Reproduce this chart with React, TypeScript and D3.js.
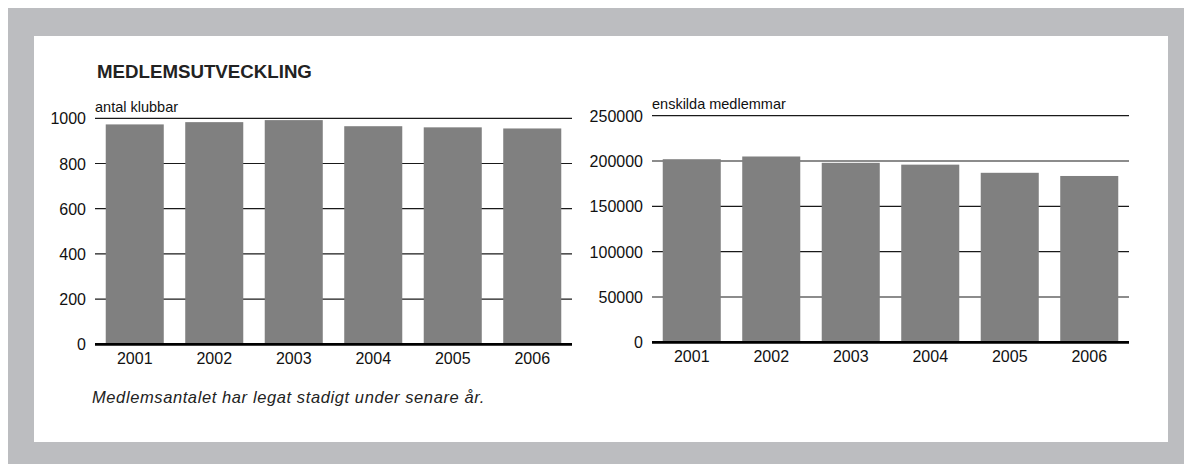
import React from 'react';
import * as d3 from 'd3';

const W = 1184;
const H = 464;

const years = ['2001', '2002', '2003', '2004', '2005', '2006'];
const klubbar = [973, 983, 992, 965, 960, 955];
const medlemmar = [202000, 205000, 198000, 196000, 187000, 183500];

const title = 'MEDLEMSUTVECKLING';
const caption = 'Medlemsantalet har legat stadigt under senare år.';

const font = '"Liberation Sans", Arial, sans-serif';

type PanelProps = {
  values: number[];
  max: number;
  label: string;
  x0: number;
  x1: number;
  y0: number;
  y1: number;
};

const Panel = ({ values, max, label, x0, x1, y0, y1 }: PanelProps) => {
  const x = d3.scaleBand().domain(years).range([x0, x1]).paddingInner(0.27).paddingOuter(0.135);
  const y = d3.scaleLinear().domain([0, max]).range([y0, y1]);
  const ticks = y.ticks(5);

  return (
    <g>
      <text x={x0} y={y1 - 6.5} fontSize={14.5} fontFamily={font} fill="#111">
        {label}
      </text>
      {ticks.map(t => (
        <g key={t}>
          <text
            x={x0 - 9}
            y={y(t) + 6}
            textAnchor="end"
            fontSize={16}
            fontFamily={font}
            fill="#111"
          >
            {t}
          </text>
          {t > 0 && <line x1={x0} x2={x1} y1={y(t)} y2={y(t)} stroke="#1a1a1a" strokeWidth={1.2} />}
        </g>
      ))}
      {values.map((v, i) => (
        <rect
          key={years[i]}
          x={x(years[i])}
          y={y(v)}
          width={x.bandwidth()}
          height={y0 - y(v)}
          fill="#808080"
        />
      ))}
      <line x1={x0} x2={x1} y1={y0} y2={y0} stroke="#000" strokeWidth={2.8} />
      {years.map(yr => (
        <text
          key={yr}
          x={(x(yr) as number) + x.bandwidth() / 2}
          y={y0 + 20}
          textAnchor="middle"
          fontSize={16}
          fontFamily={font}
          fill="#111"
        >
          {yr}
        </text>
      ))}
    </g>
  );
};

export default function App() {
  return (
    <svg
      width={W}
      height={H}
      style={{ position: 'absolute', left: 0, top: 0, display: 'block' }}
    >
      <rect x={8} y={8} width={W - 8} height={H - 8} fill="#bcbdc0" />
      <rect x={34} y={36} width={1134} height={406} fill="#fff" />
      <text x={97} y={78} fontSize={18.7} fontWeight="bold" fontFamily={font} fill="#222">
        {title}
      </text>
      <Panel values={klubbar} max={1000} label="antal klubbar" x0={95} x1={572} y0={344.3} y1={118.3} />
      <Panel
        values={medlemmar}
        max={250000}
        label="enskilda medlemmar"
        x0={652}
        x1={1129}
        y0={342.3}
        y1={115.7}
      />
      <text
        x={92}
        y={403}
        fontSize={16.5}
        fontStyle="italic"
        letterSpacing={0.6}
        fontFamily={font}
        fill="#222"
      >
        {caption}
      </text>
    </svg>
  );
}
